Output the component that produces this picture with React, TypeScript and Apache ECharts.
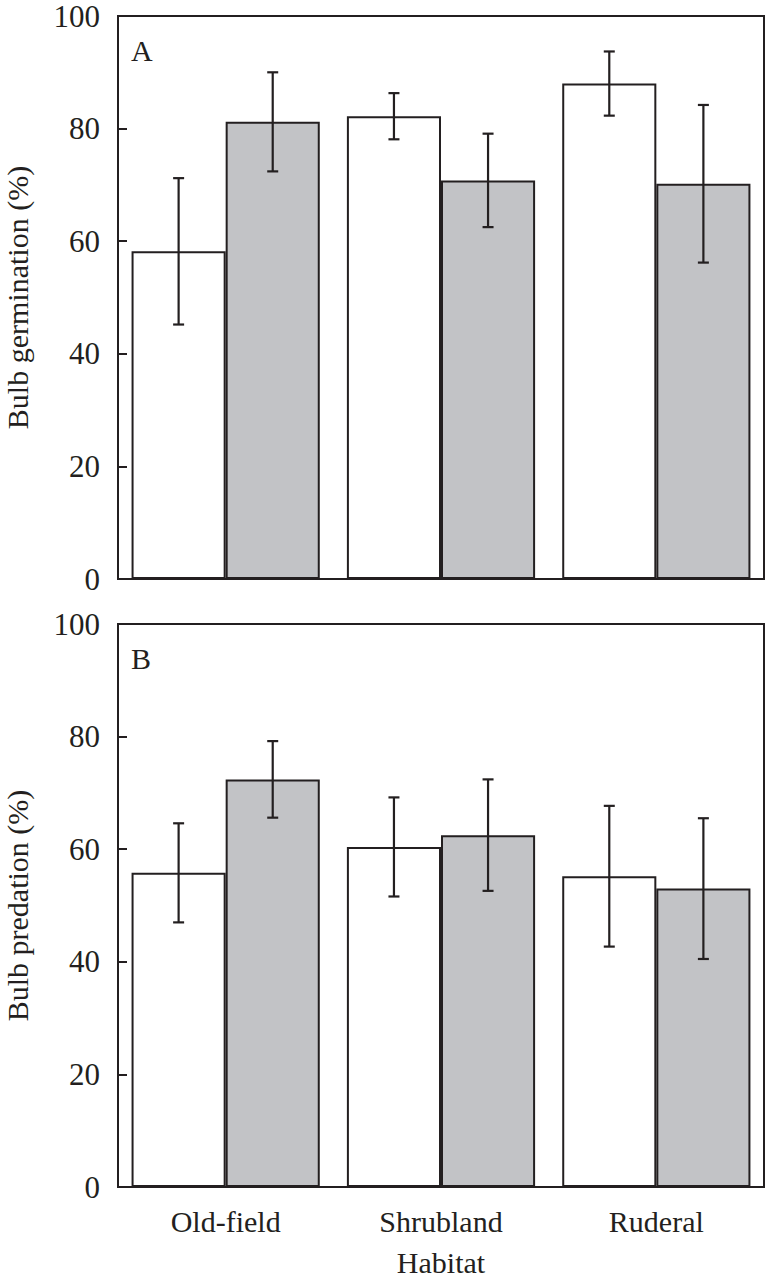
import React, { useEffect, useRef } from 'react';
import * as echarts from 'echarts';

const categories = ['Old-field', 'Shrubland', 'Ruderal'];
const germinationWhite = [58.2, 82.2, 88.0];
const germinationWhiteErr = [13.0, 4.1, 5.7];
const germinationGray = [81.2, 70.8, 70.2];
const germinationGrayErr = [8.8, 8.3, 14.0];
const predationWhite = [55.8, 60.4, 55.2];
const predationWhiteErr = [8.8, 8.8, 12.5];
const predationGray = [72.4, 62.5, 53.0];
const predationGrayErr = [6.8, 9.9, 12.5];
const panelLabels = ['A', 'B'];
const yNames = ['Bulb germination (%)', 'Bulb predation (%)'];
const xName = 'Habitat';

const INK = '#231f20';
const GRAY = '#c2c3c6';
const FONT = 'Liberation Serif';
const CAT_GAP = 0.126;

function errData(vals: number[], errs: number[], side: number) {
  return vals.map((v, i) => [i, v - errs[i], v + errs[i], side]);
}

function makeErrSeries(vals: number[], errs: number[], side: number, idx: number) {
  return {
    type: 'custom',
    xAxisIndex: idx,
    yAxisIndex: idx,
    z: 5,
    silent: true,
    data: errData(vals, errs, side),
    renderItem: (params: any, api: any) => {
      const cat = api.value(0);
      const lo = api.coord([cat, api.value(1)]);
      const hi = api.coord([cat, api.value(2)]);
      const catW = api.size([1, 0])[0];
      const bw = (catW * (1 - CAT_GAP)) / 2;
      const x = lo[0] + (api.value(3) * bw) / 2;
      const cap = 5.5;
      const style = { stroke: INK, lineWidth: 2.2 };
      return {
        type: 'group',
        children: [
          { type: 'line', shape: { x1: x, y1: lo[1], x2: x, y2: hi[1] }, style },
          { type: 'line', shape: { x1: x - cap, y1: lo[1], x2: x + cap, y2: lo[1] }, style },
          { type: 'line', shape: { x1: x - cap, y1: hi[1], x2: x + cap, y2: hi[1] }, style },
        ],
      };
    },
  };
}

function makeBar(vals: number[], color: string, idx: number) {
  return {
    type: 'bar',
    xAxisIndex: idx,
    yAxisIndex: idx,
    data: vals,
    barGap: '0%',
    barCategoryGap: (CAT_GAP * 100).toFixed(1) + '%',
    itemStyle: { color, borderColor: INK, borderWidth: 2 },
    z: 3,
  };
}

export default function App() {
  const ref = useRef<HTMLDivElement>(null);
  useEffect(() => {
    document.body.style.margin = '0';
    const chart = echarts.init(ref.current!, null, { renderer: 'svg' });
    const yAxisBase = (i: number) => ({
      type: 'value',
      gridIndex: i,
      min: 0,
      max: 100,
      interval: 20,
      name: yNames[i],
      nameLocation: 'middle',
      nameGap: 86,
      nameTextStyle: { fontFamily: FONT, fontSize: 30, color: INK },
      axisLine: { show: true, lineStyle: { color: INK, width: 2 } },
      axisTick: { show: true, inside: true, length: 9, lineStyle: { color: INK, width: 2 } },
      axisLabel: { fontFamily: FONT, fontSize: 31, color: INK, margin: 18 },
      splitLine: { show: false },
    });
    const xAxisBase = (i: number) => ({
      type: 'category',
      gridIndex: i,
      data: categories,
      axisLine: { show: true, lineStyle: { color: INK, width: 2 } },
      axisTick: { show: false },
      axisLabel: { show: i === 1, fontFamily: FONT, fontSize: 30, color: INK, margin: 19 },
      name: i === 1 ? xName : '',
      nameLocation: 'middle',
      nameGap: 60,
      nameTextStyle: { fontFamily: FONT, fontSize: 30, color: INK },
    });
    const gridBase = (top: number) => ({
      left: 118,
      top,
      width: 646,
      height: 563,
      show: true,
      borderColor: INK,
      borderWidth: 2,
      backgroundColor: 'transparent',
      containLabel: false,
      outerBoundsMode: 'none',
    });
    chart.setOption({
      animation: false,
      backgroundColor: '#ffffff',
      grid: [gridBase(16), gridBase(624)],
      xAxis: [xAxisBase(0), xAxisBase(1)],
      yAxis: [yAxisBase(0), yAxisBase(1)],
      graphic: [
        { type: 'text', left: 131, top: 35, style: { text: panelLabels[0], font: `30px "${FONT}"`, fill: INK } },
        { type: 'text', left: 131, top: 643, style: { text: panelLabels[1], font: `30px "${FONT}"`, fill: INK } },
      ],
      series: [
        makeBar(germinationWhite, '#ffffff', 0),
        makeBar(germinationGray, GRAY, 0),
        makeErrSeries(germinationWhite, germinationWhiteErr, -1, 0),
        makeErrSeries(germinationGray, germinationGrayErr, 1, 0),
        makeBar(predationWhite, '#ffffff', 1),
        makeBar(predationGray, GRAY, 1),
        makeErrSeries(predationWhite, predationWhiteErr, -1, 1),
        makeErrSeries(predationGray, predationGrayErr, 1, 1),
      ],
    });
    return () => chart.dispose();
  }, []);
  return <div ref={ref} style={{ width: 765, height: 1280 }} />;
}
